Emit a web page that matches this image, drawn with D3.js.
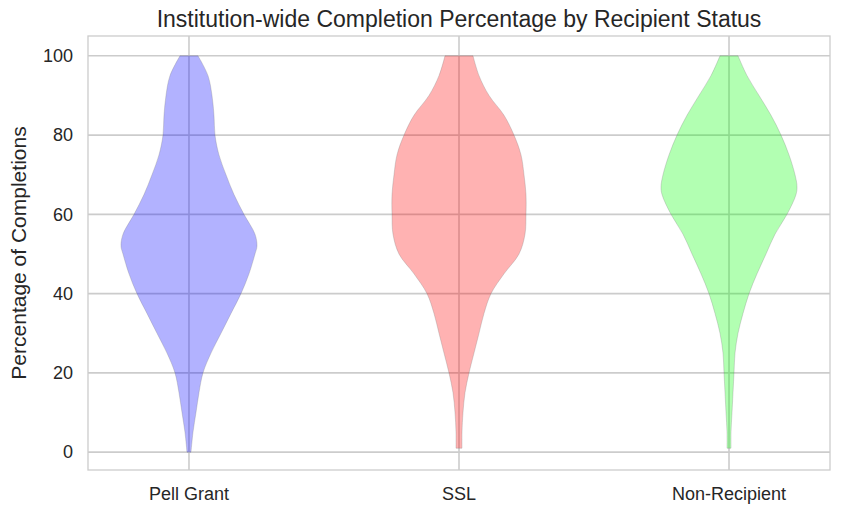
<!DOCTYPE html>
<html>
<head>
<meta charset="utf-8">
<script src="https://cdn.jsdelivr.net/npm/d3@7"></script>
<style>
  body { margin: 0; background: #fff; }
  text { font-family: "Liberation Sans", Arial, sans-serif; fill: #262626; }
</style>
</head>
<body>
<svg id="chart" width="841" height="515"></svg>
<script>
// categories and violin profiles (percentage -> relative half-width)
var categories = ["Pell Grant", "SSL", "Non-Recipient"];
var colors = ["#0000ff", "#ff0000", "#00ff00"];
var yTicks = [0, 20, 40, 60, 80, 100];

var pellY = [0, 5, 10, 15, 20, 25, 30, 35, 40, 45, 50, 52, 55, 60, 65, 70, 75, 80, 85, 90, 95, 100];
var pellW = [2, 4, 7, 10, 14, 22, 32, 42, 52, 60, 66, 68, 66, 55, 45, 37, 30, 26, 25, 23, 19, 9];

var sslY = [1, 5, 10, 15, 20, 25, 30, 35, 40, 45, 50, 55, 60, 65, 70, 75, 80, 85, 90, 95, 100];
var sslW = [3, 3, 4, 6, 10, 15, 20, 25, 32, 45, 60, 66, 67, 67, 65, 62, 55, 45, 30, 20, 14];

var nonY = [1, 5, 10, 15, 20, 25, 30, 35, 40, 45, 50, 55, 60, 65, 67, 70, 75, 80, 85, 90, 95, 100];
var nonW = [2, 2, 3, 4, 5, 6, 9, 14, 20, 28, 37, 46, 58, 67, 68, 66, 60, 52, 42, 30, 18, 9];

var profiles = [[pellY, pellW], [sslY, sslW], [nonY, nonW]];

var svg = d3.select("#chart");
var margin = {left: 88, right: 11, top: 36, bottom: 45};
var width = 841 - margin.left - margin.right;
var height = 515 - margin.top - margin.bottom;
var g = svg.append("g").attr("transform", `translate(${margin.left},${margin.top})`);

var x = d3.scalePoint().domain(categories).range([0, width]).padding(0.374);
var y = d3.scaleLinear().domain([-4.5, 105]).range([height, 0]);
var w = d3.scaleLinear().domain([0, 68]).range([0, 68]);

// grid
g.selectAll(".hgrid").data(yTicks).enter().append("line")
  .attr("x1", 0).attr("x2", width)
  .attr("y1", d => y(d)).attr("y2", d => y(d))
  .attr("stroke", "#cccccc").attr("stroke-width", 1.6);
g.selectAll(".vgrid").data(categories).enter().append("line")
  .attr("x1", d => x(d)).attr("x2", d => x(d))
  .attr("y1", 0).attr("y2", height)
  .attr("stroke", "#cccccc").attr("stroke-width", 1.6);

// violins
profiles.forEach(function(p, i) {
  var pts = p[0].map((v, j) => [v, p[1][j]]);
  var area = d3.area()
    .curve(d3.curveCatmullRom)
    .y(d => y(d[0]))
    .x0(d => x(categories[i]) - w(d[1]))
    .x1(d => x(categories[i]) + w(d[1]));
  g.append("path").datum(pts).attr("d", area)
    .attr("fill", colors[i]).attr("fill-opacity", 0.3)
    .attr("stroke", "#777").attr("stroke-opacity", 0.35).attr("stroke-width", 0.8);
});

// frame
g.append("rect").attr("width", width).attr("height", height)
  .attr("fill", "none").attr("stroke", "#cccccc").attr("stroke-width", 1.3);

// tick labels
g.selectAll(".ytick").data(yTicks).enter().append("text")
  .attr("x", -15).attr("y", d => y(d)).attr("dy", "0.35em")
  .attr("text-anchor", "end").style("font-size", "18px").text(d => d);
g.selectAll(".xtick").data(categories).enter().append("text")
  .attr("x", d => x(d)).attr("y", height + 30)
  .attr("text-anchor", "middle").style("font-size", "18px").text(d => d);

svg.append("text").attr("transform", `translate(26,${margin.top + height / 2}) rotate(-90)`)
  .attr("text-anchor", "middle").style("font-size", "21px").text("Percentage of Completions");
svg.append("text").attr("x", margin.left + width / 2).attr("y", 27)
  .attr("text-anchor", "middle").style("font-size", "23px")
  .text("Institution-wide Completion Percentage by Recipient Status");
</script>
</body>
</html>
